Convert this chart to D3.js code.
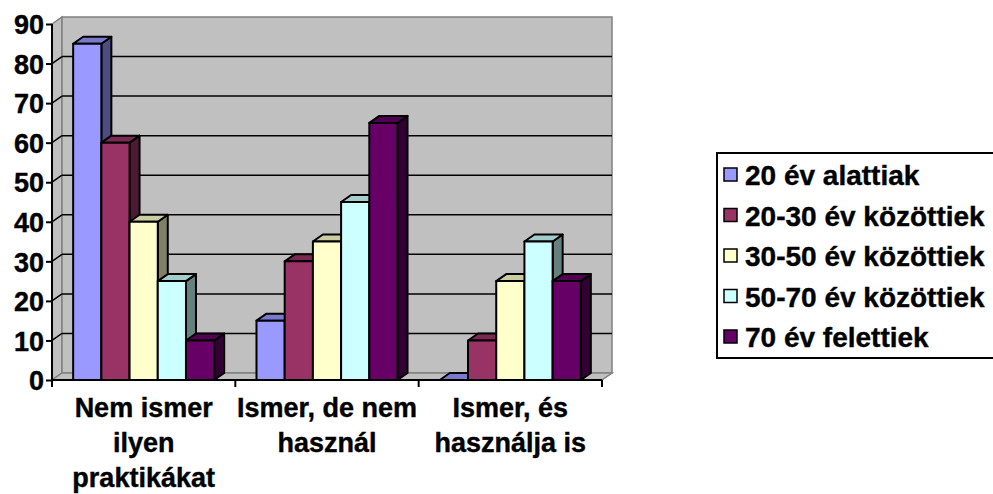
<!DOCTYPE html>
<html>
<head>
<meta charset="utf-8">
<script src="https://cdn.jsdelivr.net/npm/d3@7"></script>
<style>
  body { margin: 0; background: #fff; }
  svg text { font-family: "Liberation Sans", Arial, sans-serif; font-weight: bold; fill: #000; stroke: #000; stroke-width: 0.4px; }
</style>
</head>
<body>
<div id="mainchart"></div>
<script>
var categories = [["Nem ismer", "ilyen", "praktikákat"], ["Ismer, de nem", "használ"], ["Ismer, és", "használja is"]];
var series = ["20 év alattiak", "20-30 év közöttiek", "30-50 év közöttiek", "50-70 év közöttiek", "70 év felettiek"];
var under20 = [85, 15, 0];
var from20to30 = [60, 30, 10];
var from30to50 = [40, 35, 25];
var from50to70 = [25, 45, 35];
var over70 = [10, 65, 25];
var yTicks = [0, 10, 20, 30, 40, 50, 60, 70, 80, 90];

var seriesValues = [under20, from20to30, from30to50, from50to70, over70];
var colors = ["#9999FF", "#993366", "#FFFFCC", "#CCFFFF", "#660066"];

drawChart();

function shade(c, k) {
  var r = d3.rgb(c);
  return d3.rgb(r.r * k, r.g * k, r.b * k).toString();
}

function drawChart() {
  var width = 993, height = 494;
  var left = 52, right = 602, top = 24, bottom = 380;
  var dx = 10, dy = -7; // depth of the 3d walls and bars
  var wall = '#C0C0C0', wallEdge = '#808080';

  var svg = d3.select("#mainchart").append("svg")
    .attr("width", width)
    .attr("height", height);

  var catKeys = categories.map(function(d, i) { return i; });
  var x0 = d3.scaleBand().domain(catKeys).range([left, right]);
  var x1 = d3.scaleBand().domain(d3.range(series.length)).range([0, x0.bandwidth()]).paddingInner(0).paddingOuter(0.75);
  var y = d3.scaleLinear().domain([0, 90]).range([bottom, top]);

  // side wall
  svg.append("polygon")
    .attr("points", [[left, y(90)], [left + dx, y(90) + dy], [left + dx, y(0) + dy], [left, y(0)]].join(" "))
    .attr("fill", wall).attr("stroke", wallEdge).attr("stroke-width", 1.5);
  // back wall
  svg.append("rect")
    .attr("x", left + dx).attr("y", y(90) + dy)
    .attr("width", right - left).attr("height", y(0) - y(90))
    .attr("fill", wall).attr("stroke", wallEdge).attr("stroke-width", 1.5);
  // floor
  svg.append("polygon")
    .attr("points", [[left, y(0)], [left + dx, y(0) + dy], [right + dx, y(0) + dy], [right, y(0)]].join(" "))
    .attr("fill", wall).attr("stroke", wallEdge).attr("stroke-width", 1.5);

  // gridlines
  var grid = yTicks.filter(function(v) { return v > 0 && v < 90; });
  svg.selectAll("line.grid").data(grid).enter().append("line")
    .attr("class", "grid")
    .attr("x1", left + dx).attr("x2", right + dx)
    .attr("y1", function(d) { return y(d) + dy; })
    .attr("y2", function(d) { return y(d) + dy; })
    .attr("stroke", "#000").attr("stroke-width", 1.5);
  svg.selectAll("line.gridside").data(grid).enter().append("line")
    .attr("class", "gridside")
    .attr("x1", left).attr("x2", left + dx)
    .attr("y1", function(d) { return y(d); })
    .attr("y2", function(d) { return y(d) + dy; })
    .attr("stroke", "#000").attr("stroke-width", 1.5);

  // bars
  var bars = [];
  categories.forEach(function(c, j) {
    seriesValues.forEach(function(vals, i) {
      bars.push({ cat: j, s: i, v: vals[j] });
    });
  });

  var g = svg.selectAll("g.bar").data(bars).enter().append("g").attr("class", "bar");
  g.each(function(d) {
    var bx = x0(d.cat) + x1(d.s), bw = x1.bandwidth();
    var yt = y(d.v), yb = y(0);
    var sel = d3.select(this);
    sel.append("polygon")
      .attr("points", [[bx + bw, yt], [bx + bw + dx, yt + dy], [bx + bw + dx, yb + dy], [bx + bw, yb]].join(" "))
      .attr("fill", shade(colors[d.s], 0.5));
    sel.append("polygon")
      .attr("points", [[bx, yt], [bx + dx, yt + dy], [bx + bw + dx, yt + dy], [bx + bw, yt]].join(" "))
      .attr("fill", shade(colors[d.s], 0.8));
    if (d.v > 0) {
      sel.append("rect")
        .attr("x", bx).attr("y", yt).attr("width", bw).attr("height", yb - yt)
        .attr("fill", colors[d.s]);
    }
    sel.selectAll("*").attr("stroke", "#000").attr("stroke-width", 2).attr("stroke-linejoin", "round");
  });

  // axes
  var yAxis = d3.axisLeft(y).tickValues(yTicks).tickSize(6).tickPadding(2);
  var ya = svg.append("g").attr("transform", "translate(" + left + ",0)").call(yAxis);
  ya.select(".domain").remove();
  ya.selectAll(".tick line").attr("stroke", "#000").attr("stroke-width", 2);
  ya.selectAll(".tick text").style("font-size", "27px").attr("dy", "0.36em");
  svg.append("line").attr("x1", left).attr("x2", left).attr("y1", top).attr("y2", bottom)
    .attr("stroke", "#000").attr("stroke-width", 2);

  var xa = svg.append("g");
  xa.append("line").attr("x1", left).attr("x2", right).attr("y1", bottom).attr("y2", bottom)
    .attr("stroke", "#000").attr("stroke-width", 2);
  var bounds = catKeys.map(function(k) { return x0(k); }).concat([right]);
  xa.selectAll("line.tick").data(bounds).enter().append("line")
    .attr("x1", function(d) { return d; }).attr("x2", function(d) { return d; })
    .attr("y1", bottom).attr("y2", bottom + 7)
    .attr("stroke", "#000").attr("stroke-width", 2);

  var labels = svg.selectAll("text.cat").data(categories).enter().append("text")
    .attr("class", "cat")
    .attr("text-anchor", "middle")
    .style("font-size", "27px")
    .attr("y", 417);
  labels.selectAll("tspan").data(function(d, i) { return d.map(function(t) { return { t: t, i: i }; }); })
    .enter().append("tspan")
    .attr("x", function(d) { return x0(d.i) + x0.bandwidth() / 2; })
    .attr("dy", function(d, k) { return k === 0 ? 0 : 35; })
    .text(function(d) { return d.t; });

  // legend
  var lg = svg.append("g").attr("transform", "translate(717,153)");
  lg.append("rect").attr("x", 0).attr("y", 0).attr("width", 300).attr("height", 205)
    .attr("fill", "#fff").attr("stroke", "#000").attr("stroke-width", 2);
  var items = lg.selectAll("g.item").data(series).enter().append("g")
    .attr("transform", function(d, i) { return "translate(0," + (22 + i * 40.5) + ")"; });
  items.append("rect").attr("x", 7).attr("y", -7).attr("width", 13).attr("height", 13)
    .attr("fill", function(d, i) { return colors[i]; })
    .attr("stroke", "#000").attr("stroke-width", 1.5);
  items.append("text").attr("x", 28).attr("dy", "0.36em").style("font-size", "28px")
    .text(function(d) { return d; });
}
</script>
</body>
</html>
